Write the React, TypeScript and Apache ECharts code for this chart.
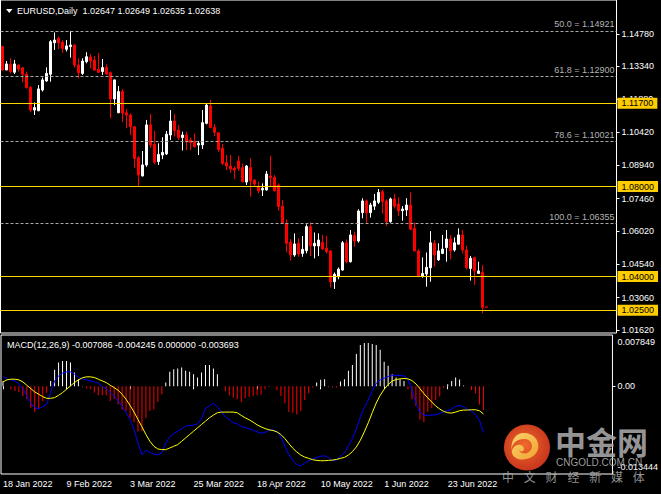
import React, { useEffect, useRef } from "react";
import * as echarts from "echarts";

// ---------- data ----------
const firstBarDate = "2022-01-18";
const totalSlots = 154; // chart shift: empty room right of the last bar
const dateLabelStep = 16;

const opens = [
  1.1422, 1.1318, 1.1343, 1.1308, 1.134, 1.1328, 1.1299, 1.124, 1.114, 1.1137,
  1.1229, 1.1269, 1.1299, 1.1439, 1.1459, 1.1441, 1.141, 1.1422, 1.1429, 1.134,
  1.1303, 1.1355, 1.1376, 1.1362, 1.1321, 1.1311, 1.1329, 1.1306, 1.1189, 1.1128,
  1.1222, 1.1128, 1.1118, 1.1066, 1.0928, 1.0847, 1.0896, 1.1074, 1.0988, 1.0911,
  1.094, 1.0945, 1.1029, 1.1091, 1.1051, 1.1018, 1.1029, 1.1007, 1.1, 1.0985,
  1.0985, 1.1081, 1.1158, 1.1063, 1.1039, 1.097, 1.0906, 1.0891, 1.0881, 1.0914,
  1.0884, 1.082, 1.0884, 1.0829, 1.0799, 1.0785, 1.0785, 1.0847, 1.0841, 1.0807,
  1.0713, 1.0637, 1.0552, 1.0496, 1.0548, 1.0503, 1.0515, 1.0622, 1.0536, 1.0536,
  1.0552, 1.0526, 1.0514, 1.0377, 1.0399, 1.0429, 1.055, 1.0466, 1.0582, 1.0558,
  1.0684, 1.0736, 1.0684, 1.0713, 1.073, 1.0777, 1.0736, 1.0644, 1.0745, 1.0722,
  1.0693, 1.0696, 1.0718, 1.0614, 1.0514, 1.0402, 1.0411, 1.0439, 1.0548, 1.0474,
  1.0503, 1.0529, 1.0567, 1.0518, 1.0544, 1.0585, 1.0518, 1.0436, 1.0484, 1.0414,
  1.0419, 1.02647,
];
const highs = [
  1.1426, 1.1358, 1.137, 1.1363, 1.1343, 1.1331, 1.1311, 1.1247, 1.1174, 1.1251,
  1.1284, 1.133, 1.1451, 1.1485, 1.1466, 1.1451, 1.1451, 1.1491, 1.1432, 1.137,
  1.137, 1.1397, 1.1389, 1.138, 1.1394, 1.1367, 1.1343, 1.1311, 1.1276, 1.1247,
  1.1234, 1.1145, 1.1125, 1.1069, 1.0936, 1.0958, 1.1096, 1.1122, 1.1047, 1.0992,
  1.1019, 1.1047, 1.114, 1.1122, 1.1074, 1.1044, 1.1044, 1.1017, 1.1036, 1.1003,
  1.114, 1.1167, 1.1185, 1.1078, 1.1042, 1.0989, 1.094, 1.094, 1.0891, 1.0936,
  1.0903, 1.0896, 1.0925, 1.0832, 1.0822, 1.0814, 1.0869, 1.0936, 1.0851, 1.0814,
  1.074, 1.0654, 1.0566, 1.0592, 1.057, 1.058, 1.0632, 1.0641, 1.0596, 1.0592,
  1.0585, 1.058, 1.0516, 1.0418, 1.044, 1.0558, 1.0565, 1.0607, 1.06, 1.0699,
  1.0748, 1.0743, 1.0728, 1.0767, 1.0789, 1.0785, 1.0743, 1.0751, 1.0767, 1.0752,
  1.0713, 1.0748, 1.0774, 1.0641, 1.0521, 1.0485, 1.0507, 1.0602, 1.0562, 1.0548,
  1.0585, 1.0607, 1.0585, 1.0574, 1.0614, 1.0607, 1.0537, 1.0491, 1.0488, 1.0466,
  1.0451, 1.02649,
];
const lows = [
  1.1315, 1.1318, 1.1303, 1.13, 1.1311, 1.1263, 1.1235, 1.113, 1.1118, 1.1135,
  1.1222, 1.1266, 1.1266, 1.1407, 1.1411, 1.1395, 1.14, 1.1373, 1.1328, 1.1281,
  1.1296, 1.1348, 1.1326, 1.1314, 1.1306, 1.1296, 1.1296, 1.1103, 1.1162, 1.1126,
  1.1088, 1.1059, 1.1029, 1.0884, 1.0804, 1.0845, 1.0888, 1.0973, 1.0899, 1.0896,
  1.0922, 1.094, 1.1007, 1.1022, 1.1007, 1.096, 1.0962, 1.0962, 1.0974, 1.094,
  1.0967, 1.1077, 1.1059, 1.1025, 1.0955, 1.0896, 1.0873, 1.0862, 1.0833, 1.0869,
  1.0818, 1.0807, 1.0755, 1.0799, 1.077, 1.0758, 1.0782, 1.0799, 1.0777, 1.0693,
  1.0634, 1.051, 1.0471, 1.0488, 1.0488, 1.0488, 1.0503, 1.0491, 1.0481, 1.0491,
  1.0518, 1.0503, 1.0352, 1.0345, 1.0388, 1.0426, 1.0459, 1.0462, 1.0533, 1.0551,
  1.0659, 1.0639, 1.0662, 1.0696, 1.0722, 1.0681, 1.0626, 1.0639, 1.0703, 1.0669,
  1.0648, 1.0669, 1.0607, 1.0511, 1.0397, 1.0395, 1.0355, 1.0377, 1.0444, 1.047,
  1.05, 1.0466, 1.0477, 1.0511, 1.0541, 1.0503, 1.0432, 1.0382, 1.0363, 1.0411,
  1.0237, 1.02635,
];
const closes = [
  1.1318, 1.1345, 1.1311, 1.1345, 1.1322, 1.1299, 1.124, 1.114, 1.1151, 1.1234,
  1.1274, 1.1303, 1.1444, 1.1451, 1.1439, 1.1414, 1.1425, 1.1429, 1.134, 1.1306,
  1.1358, 1.1377, 1.1358, 1.1318, 1.1308, 1.1329, 1.13, 1.1189, 1.1274, 1.1222,
  1.1126, 1.1118, 1.1066, 1.0925, 1.0851, 1.0896, 1.1074, 1.0985, 1.0908, 1.0943,
  1.0952, 1.1033, 1.1091, 1.1048, 1.1018, 1.1029, 1.1, 1.0995, 1.0977, 1.0992,
  1.1084, 1.1162, 1.1063, 1.1041, 1.0965, 1.0903, 1.0891, 1.0878, 1.0873, 1.0881,
  1.0822, 1.0891, 1.0825, 1.0811, 1.078, 1.0792, 1.0856, 1.0839, 1.0782, 1.0711,
  1.0637, 1.0548, 1.0496, 1.0545, 1.05, 1.0521, 1.0622, 1.0536, 1.0548, 1.0562,
  1.0523, 1.0511, 1.0377, 1.041, 1.0433, 1.055, 1.0466, 1.0585, 1.0558, 1.0691,
  1.0736, 1.0684, 1.0718, 1.0736, 1.0774, 1.0733, 1.0644, 1.0745, 1.0713, 1.0691,
  1.07, 1.0718, 1.061, 1.0514, 1.0401, 1.0414, 1.0441, 1.055, 1.0496, 1.0514,
  1.0522, 1.0567, 1.0514, 1.055, 1.0585, 1.0518, 1.0439, 1.0481, 1.0425, 1.0425,
  1.0263, 1.02638,
];

const macdHist = [
  0.00082, -0.00005, -0.00046, -0.00072, -0.00087, -0.00149, -0.002, -0.00329, -0.00396, -0.00344,
  -0.00226, -0.00098, 0.00082, 0.00252, 0.00365, 0.00386, 0.00386, 0.00365, 0.00211, 0.00108,
  0.00002, -0.00036, -0.00046, -0.00098, -0.00139, -0.00139, -0.00139, -0.00226, -0.002, -0.00278,
  -0.00355, -0.0038, -0.00483, -0.0055, -0.00689, -0.00689, -0.00483, -0.0038, -0.00355, -0.00242,
  -0.00123, 0.00057, 0.00221, 0.00262, 0.00272, 0.00288, 0.00236, 0.00221, 0.00185, 0.00134,
  0.00211, 0.00324, 0.00324, 0.00272, 0.00185, 0.0, -0.00072, -0.00139, -0.00175, -0.002,
  -0.00242, -0.00185, -0.00165, -0.00149, -0.00139, -0.00129, -0.00046, 0.00003, -0.00003, -0.00062,
  -0.00149, -0.00262, -0.00396, -0.00406, -0.00432, -0.0038, -0.00211, -0.00108, -0.00021, 0.00057,
  0.00098, 0.00108, 0.00003, -0.00021, -0.00021, 0.00072, 0.00108, 0.00236, 0.00324, 0.00494,
  0.00632, 0.00663, 0.00663, 0.00648, 0.00632, 0.0056, 0.00375, 0.00314, 0.00185, 0.00134,
  0.00108, 0.00082, -0.00046, -0.002, -0.00303, -0.00509, -0.0055, -0.00396, -0.00334, -0.00211,
  -0.00159, -0.00026, 0.00031, 0.00082, 0.00134, 0.00103, 0.0001, -0.00001, -0.00057, -0.00108,
  -0.00278, -0.003693,
];
const macdMain = [
  0.00149, 0.00108, 0.00098, 0.00082, 0.00031, -0.00036, -0.00149, -0.00262, -0.00329, -0.00344,
  -0.00314, -0.00278, -0.00098, 0.00082, 0.00159, 0.002, 0.00221, 0.00221, 0.00185, 0.00134,
  0.00108, 0.00098, 0.00082, 0.00067, 0.00046, -0.00005, -0.00036, -0.00098, -0.00149, -0.00226,
  -0.00303, -0.00406, -0.00509, -0.00663, -0.00869, -0.01049, -0.00982, -0.01013, -0.01038, -0.01049,
  -0.01023, -0.00869, -0.00776, -0.00725, -0.00689, -0.00653, -0.00612, -0.00601, -0.00596, -0.00576,
  -0.00499, -0.00344, -0.00303, -0.00262, -0.00314, -0.00396, -0.00468, -0.00509, -0.0056, -0.00576,
  -0.00617, -0.00632, -0.00653, -0.00673, -0.00699, -0.0072, -0.00709, -0.00673, -0.00668, -0.00699,
  -0.00776, -0.0092, -0.01049, -0.01136, -0.01203, -0.01218, -0.01177, -0.01141, -0.01115, -0.0109,
  -0.01074, -0.01064, -0.01095, -0.01141, -0.01126, -0.01074, -0.01013, -0.00915, -0.00802, -0.00653,
  -0.00468, -0.00329, -0.00211, -0.00072, 0.00046, 0.00098, 0.00123, 0.00149, 0.00164, 0.0017,
  0.00164, 0.00159, 0.00108, -0.00057, -0.00262, -0.00396, -0.00442, -0.00447, -0.00442, -0.00437,
  -0.00416, -0.00391, -0.00375, -0.0035, -0.00308, -0.00293, -0.00319, -0.00355, -0.0038, -0.00432,
  -0.00524, -0.007086,
];
const macdSignal = [
  0.00067, 0.00098, 0.00108, 0.00108, 0.00098, 0.00067, 0.00015, -0.00036, -0.00087, -0.00123,
  -0.00159, -0.00185, -0.00185, -0.00175, -0.00139, -0.00098, -0.00046, 0.00005, 0.00057, 0.00098,
  0.00129, 0.00144, 0.00144, 0.00134, 0.00108, 0.00082, 0.00057, 0.00015, -0.00021, -0.00062,
  -0.00123, -0.002, -0.00293, -0.00396, -0.00509, -0.00622, -0.0074, -0.00843, -0.0092, -0.00961,
  -0.00971, -0.00971, -0.00946, -0.0092, -0.00894, -0.00843, -0.00792, -0.0074, -0.00689, -0.00637,
  -0.00586, -0.00535, -0.00483, -0.00442, -0.00406, -0.00396, -0.00396, -0.00396, -0.00396, -0.00406,
  -0.00447, -0.00483, -0.00514, -0.0055, -0.00591, -0.00622, -0.00648, -0.00668, -0.00678, -0.00699,
  -0.0074, -0.00802, -0.00879, -0.00951, -0.01007, -0.01054, -0.01085, -0.01105, -0.01126, -0.01136,
  -0.01141, -0.01141, -0.01136, -0.01131, -0.01121, -0.01105, -0.0109, -0.01054, -0.01002, -0.0093,
  -0.00828, -0.00699, -0.0056, -0.00406, -0.00257, -0.00139, -0.00046, 0.00026, 0.00077, 0.00103,
  0.00113, 0.00118, 0.00113, 0.00087, 0.00036, -0.00036, -0.00113, -0.0018, -0.00242, -0.00303,
  -0.0035, -0.00386, -0.00406, -0.00411, -0.00396, -0.00375, -0.00365, -0.00365, -0.0036, -0.0036,
  -0.00375, -0.004245,
];

const priceTicks = [1.1478, 1.1334, 1.1188, 1.1042, 1.0894, 1.0746, 1.0602, 1.0454, 1.0306, 1.0162];
const macdTicks = [0.007849, 0, -0.013444];
const levelLines = [1.117, 1.08, 1.04, 1.025];
const fibLevels = [1.14921, 1.129, 1.10021, 1.06355];
const fibNames = ["50.0", "61.8", "78.6", "100.0"];
const bidPrice = 1.02638;
const symbolTitle = "EURUSD,Daily";
const macdTitle = "MACD(12,26,9) -0.007086 -0.004245 0.000000 -0.003693";
const watermarkSub = ["中", "文", "财", "经", "新", "媒", "体"];

// ---------- helpers ----------
const MONTHS = ["Jan", "Feb", "Mar", "Apr", "May", "Jun", "Jul", "Aug", "Sep", "Oct", "Nov", "Dec"];
function tradingDays(start: string, count: number): string[] {
  const out: string[] = [];
  const d = new Date(start + "T00:00:00Z");
  while (out.length < count) {
    const wd = d.getUTCDay();
    if (wd !== 0 && wd !== 6) out.push(`${d.getUTCDate()} ${MONTHS[d.getUTCMonth()]} ${d.getUTCFullYear()}`);
    d.setUTCDate(d.getUTCDate() + 1);
  }
  return out;
}

const swirlPath =
  "M-2 -14 C8 -14 14 -6 12 2 C10 10 0 14 -8 12 C-14 10 -16 4 -12 0 C-8 -4 -2 -2 -2 2 C-2 5 -6 5 -7 3 C-6 7 0 8 4 4 C8 0 6 -8 -2 -8 C-10 -8 -16 -2 -14 6 C-16 -4 -12 -14 -2 -14 Z";
echarts.graphic.registerShape("cnLogo", (echarts.graphic as any).extendPath(swirlPath, {}));

const FONT = "'Liberation Sans', Arial, sans-serif";

export default function App() {
  const ref = useRef<HTMLDivElement>(null);

  useEffect(() => {
    document.body.style.margin = "0";
    document.body.style.background = "#000";
    if (!ref.current) return;
    const chart = echarts.init(ref.current, undefined, { renderer: "svg" });

    const n = opens.length;
    const dates = tradingDays(firstBarDate, n);
    const categories: string[] = [];
    for (let i = 0; i < totalSlots; i++) categories.push(i < n ? dates[i] : `slot${i}`);
    const showDate = (i: number) => i < n && i % dateLabelStep === 0;

    const candleData = opens.map((o, i) => [o, closes[i], lows[i], highs[i]]);
    const pxPerUnit = 2250;
    const mainHeight = 333;
    const yMax = 1.117 + 103.3 / pxPerUnit;
    const yMin = yMax - mainHeight / pxPerUnit;

    const option: any = {
      animation: false,
      backgroundColor: "#000",
      textStyle: { fontFamily: FONT },
      grid: [
        { left: 0.5, right: 44.5, top: 0, height: mainHeight, show: true, borderColor: "#fff", borderWidth: 1 },
        { left: 0.5, right: 44.5, top: 335, height: 139, show: true, borderColor: "#fff", borderWidth: 1 },
      ],
      xAxis: [
        {
          type: "category", gridIndex: 0, data: categories, boundaryGap: true,
          axisLine: { show: false }, axisTick: { show: false }, axisLabel: { show: false }, splitLine: { show: false },
        },
        {
          type: "category", gridIndex: 1, data: categories, boundaryGap: true,
          axisLine: { show: false },
          axisTick: { show: true, length: 3, alignWithLabel: true, interval: (i: number) => showDate(i), lineStyle: { color: "#fff" } },
          axisLabel: {
            show: true, interval: (i: number) => showDate(i), color: "#fff", fontSize: 9, fontFamily: FONT,
            align: "left", margin: 5,
          },
          splitLine: { show: false },
        },
      ],
      yAxis: [
        {
          type: "value", gridIndex: 0, position: "right", min: yMin, max: yMax,
          splitLine: { show: false }, axisLine: { show: false },
          axisTick: { show: true, length: 3, customValues: priceTicks, lineStyle: { color: "#fff" } },
          axisLabel: {
            customValues: priceTicks, formatter: (v: number) => v.toFixed(5),
            color: "#fff", fontSize: 9, fontFamily: FONT, margin: 5,
          },
        },
        {
          type: "value", gridIndex: 1, position: "right", min: macdTicks[2], max: macdTicks[0],
          splitLine: { show: false }, axisLine: { show: false },
          axisTick: { show: true, length: 3, customValues: [0], lineStyle: { color: "#fff" } },
          axisLabel: {
            customValues: macdTicks,
            formatter: (v: number) =>
              v > 0 ? `{t|${v.toFixed(6)}}` : v < 0 ? `{b|${v.toFixed(6)}}` : "0.00",
            color: "#fff", fontSize: 9, fontFamily: FONT, margin: 5,
            rich: {
              t: { padding: [13, 0, 0, 0], color: "#fff", fontSize: 9, fontFamily: FONT },
              b: { padding: [0, 0, 14, 0], color: "#fff", fontSize: 9, fontFamily: FONT },
            },
          },
        },
      ],
      series: [
        {
          name: "bid", type: "line", xAxisIndex: 0, yAxisIndex: 0, data: [], silent: true,
          markLine: {
            symbol: "none", silent: true, z: 4, precision: 6,
            data: [
              {
                yAxis: bidPrice, lineStyle: { width: 0, opacity: 0 },
                label: {
                  show: true, position: "end", distance: 1, formatter: bidPrice.toFixed(5),
                  backgroundColor: "#fff", color: "#000", fontSize: 9, fontFamily: FONT,
                  padding: [0, 4, 0, 4], lineHeight: 9,
                },
              },
            ],
          },
        },
        {
          name: "EURUSD", type: "candlestick", xAxisIndex: 0, yAxisIndex: 0, data: candleData,
          barWidth: 2,
          itemStyle: {
            color: "#ffffff", color0: "#ff0000", borderColor: "#ffffff", borderColor0: "#ff0000",
            borderColorDoji: "#ffffff", borderWidth: 1,
          },
          markLine: {
            symbol: "none", silent: true, z: 6, precision: 6,
            data: [
              ...fibLevels.map((v, k) => ({
                yAxis: v,
                lineStyle: { color: "#a8a8a8", type: [3, 2], width: 1 },
                label: {
                  show: true, position: "insideEndTop", distance: 2,
                  formatter: `${fibNames[k]} = ${v.toFixed(5)}`,
                  color: "#b4b4b4", fontSize: 9, fontFamily: FONT,
                },
              })),
              ...levelLines.map((v) => ({
                yAxis: v,
                lineStyle: { color: "#ffd700", type: "solid", width: 1 },
                label: {
                  show: true, position: "end", distance: 1, formatter: v.toFixed(5),
                  backgroundColor: "#ffcc00", color: "#000", fontSize: 9, fontFamily: FONT,
                  padding: [1, 4, 1, 4], lineHeight: 9,
                },
              })),
            ],
          },
        },
        {
          name: "Histogram", type: "bar", xAxisIndex: 1, yAxisIndex: 1, barWidth: 1,
          data: macdHist.map((v) => ({ value: v, itemStyle: { color: v >= 0 ? "#ffffff" : "#ff0000" } })),
        },
        {
          name: "MACD", type: "line", xAxisIndex: 1, yAxisIndex: 1, data: macdMain,
          showSymbol: false, symbol: "none", lineStyle: { color: "#0000ff", width: 1 },
        },
        {
          name: "Signal", type: "line", xAxisIndex: 1, yAxisIndex: 1, data: macdSignal,
          showSymbol: false, symbol: "none", lineStyle: { color: "#ffff00", width: 1 },
        },
      ],
      graphic: [
        { type: "polygon", z: 50, shape: { points: [[6, 9], [12.5, 9], [9.25, 13]] }, style: { fill: "#fff" } },
        {
          type: "text", z: 50, x: 17, y: 11,
          style: {
            text: `${symbolTitle}  ${opens[n - 1].toFixed(5)} ${highs[n - 1].toFixed(5)} ${lows[n - 1].toFixed(5)} ${closes[n - 1].toFixed(5)}`,
            fill: "#fff", fontSize: 9, fontFamily: FONT, verticalAlign: "middle",
          },
        },
        {
          type: "text", z: 50, x: 7, y: 345,
          style: { text: macdTitle, fill: "#fff", fontSize: 9, fontFamily: FONT, verticalAlign: "middle" },
        },
        // watermark
        {
          type: "circle", z: 100, shape: { cx: 527, cy: 447.5, r: 23 },
          style: {
            fill: new echarts.graphic.RadialGradient(0.45, 0.45, 0.6, [
              { offset: 0, color: "#ee6a2c" },
              { offset: 1, color: "#c5321b" },
            ]),
          },
        },
        {
          type: "cnLogo", z: 101, x: 526, y: 447, scaleX: 1.0, scaleY: 1.0,
          style: {
            fill: new echarts.graphic.LinearGradient(0, 0, 1, 1, [
              { offset: 0, color: "#fbd36a" },
              { offset: 1, color: "#f0a232" },
            ]),
          },
        },
        {
          type: "text", z: 100, x: 555, y: 440,
          style: {
            text: "中金网", fill: "rgba(170,170,170,0.9)", fontSize: 31, fontWeight: "bold",
            fontFamily: "'Noto Sans CJK SC', sans-serif", verticalAlign: "middle",
          },
        },
        {
          type: "text", z: 100, x: 556, y: 462.5,
          style: {
            text: "CNGOLD.COM.CN", fill: "rgba(175,175,175,0.9)", fontSize: 10,
            fontFamily: FONT, verticalAlign: "middle",
          },
        },
        ...watermarkSub.map((ch, k) => ({
          type: "text", z: 100, x: 508 + k * 21.8, y: 476,
          style: {
            text: ch, fill: "rgba(175,175,175,0.85)", fontSize: 12,
            fontFamily: "'Noto Sans CJK SC', sans-serif", align: "center", verticalAlign: "middle",
          },
        })),
      ],
    };

    chart.setOption(option);
    return () => chart.dispose();
  }, []);

  return <div ref={ref} style={{ width: 661, height: 494, background: "#000" }} />;
}
